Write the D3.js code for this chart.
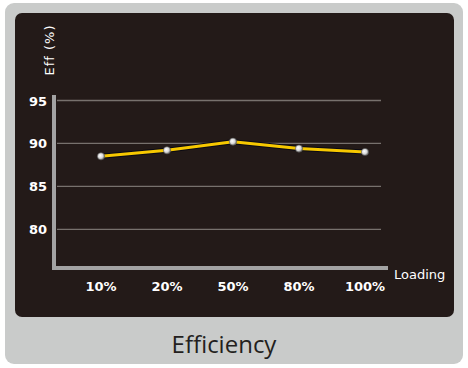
<!DOCTYPE html>
<html><head><meta charset="utf-8">
<script src="https://cdn.jsdelivr.net/npm/d3@7"></script>
<style>html,body{margin:0;padding:0;background:#fff;}svg{display:block;}</style>
</head><body>
<svg id="c" width="468" height="368"></svg>
<script>
const categories = ["10%", "20%", "50%", "80%", "100%"];
const efficiency = [88.5, 89.2, 90.2, 89.4, 89.0];
const yTicks = [80, 85, 90, 95];
const title = "Efficiency";
const yLabel = "Eff (%)";
const xLabel = "Loading";

const svg = d3.select("#c");
const defs = svg.append("defs");
const g = defs.append("radialGradient").attr("id","dot").attr("cx","40%").attr("cy","40%").attr("r","60%");
g.append("stop").attr("offset","0%").attr("stop-color","#ffffff");
g.append("stop").attr("offset","60%").attr("stop-color","#d8d8d8");
g.append("stop").attr("offset","100%").attr("stop-color","#7a7a7a");

svg.append("rect").attr("x",5).attr("y",3).attr("width",458).attr("height",361).attr("rx",9).attr("fill","#c9cbca");
svg.append("rect").attr("x",15).attr("y",13).attr("width",439).attr("height",304).attr("rx",7).attr("fill","#231a18");

const x = d3.scalePoint().domain(categories).range([101, 365]);
const y = d3.scaleLinear().domain([80, 95]).range([229.3, 100.5]);

svg.append("g").selectAll("line").data(yTicks).join("line")
  .attr("x1",57).attr("x2",381).attr("y1",d=>y(d)).attr("y2",d=>y(d))
  .attr("stroke","#77716d").attr("stroke-width",1.3);

svg.append("rect").attr("x",52).attr("y",95).attr("width",4).attr("height",175).attr("fill","#a3a3a3");
svg.append("rect").attr("x",52).attr("y",266).attr("width",336).attr("height",4).attr("fill","#a3a3a3");

svg.append("g").selectAll("text").data(yTicks).join("text")
  .attr("x",47).attr("y",d=>y(d)+5).attr("text-anchor","end")
  .attr("font-family","DejaVu Sans").attr("font-weight","bold").attr("font-size",13)
  .attr("fill","#ffffff").text(d=>d);

svg.append("g").selectAll("text").data(categories).join("text")
  .attr("x",d=>x(d)).attr("y",291).attr("text-anchor","middle")
  .attr("font-family","DejaVu Sans").attr("font-weight","bold").attr("font-size",13)
  .attr("fill","#ffffff").text(d=>d);

const line = d3.line().x((d,i)=>x(categories[i])).y(d=>y(d));
svg.append("path").datum(efficiency).attr("d",line).attr("fill","none")
  .attr("stroke","#0a0a14").attr("stroke-width",5).attr("stroke-linejoin","round");
svg.append("path").datum(efficiency).attr("d",line).attr("fill","none")
  .attr("stroke","#f7c800").attr("stroke-width",3).attr("stroke-linejoin","round");

svg.append("g").selectAll("circle").data(efficiency).join("circle")
  .attr("cx",(d,i)=>x(categories[i])).attr("cy",d=>y(d)).attr("r",3.6)
  .attr("fill","url(#dot)").attr("stroke","#555").attr("stroke-width",0.6);

svg.append("text").attr("transform","translate(54,50) rotate(-90)").attr("text-anchor","middle")
  .attr("font-family","DejaVu Sans").attr("font-size",13).attr("letter-spacing",1).attr("fill","#ffffff").text(yLabel);
svg.append("text").attr("x",394).attr("y",279)
  .attr("font-family","DejaVu Sans").attr("font-size",13).attr("fill","#ffffff").text(xLabel);

svg.append("text").attr("x",224).attr("y",353).attr("text-anchor","middle")
  .attr("font-family","Open Sans").attr("font-size",24).attr("fill","#231f20").text(title);
</script>
</body></html>
